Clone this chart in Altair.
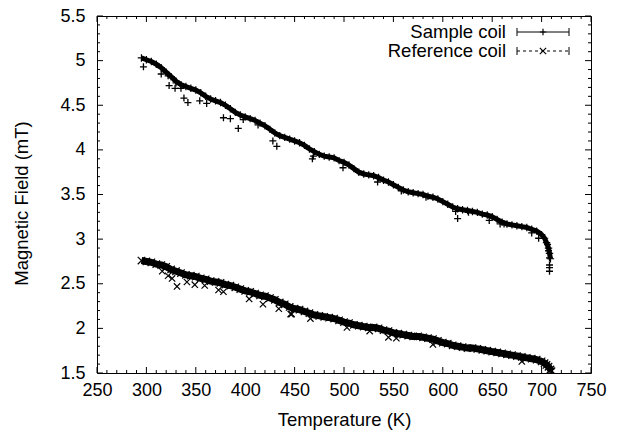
import altair as alt
import pandas as pd

# ---------------- data ----------------
sample_T = list(range(295, 701, 5)) + [703, 705, 707, 708, 709]
sample_B = [5.03, 5.01, 4.99, 4.96, 4.92, 4.87, 4.82, 4.77, 4.73, 4.71,
            4.69, 4.67, 4.64, 4.60, 4.57, 4.55, 4.53, 4.50, 4.46, 4.42,
            4.39, 4.37, 4.35, 4.33, 4.30, 4.27, 4.23, 4.19, 4.16, 4.14,
            4.12, 4.10, 4.08, 4.05, 4.01, 3.98, 3.95, 3.93, 3.92, 3.91,
            3.88, 3.86, 3.83, 3.79, 3.75, 3.73, 3.72, 3.71, 3.69, 3.66,
            3.64, 3.61, 3.58, 3.55, 3.53, 3.52, 3.51, 3.50, 3.48, 3.47,
            3.45, 3.42, 3.39, 3.36, 3.34, 3.33, 3.32, 3.31, 3.30, 3.28,
            3.27, 3.25, 3.22, 3.19, 3.17, 3.16, 3.15, 3.14, 3.13, 3.11,
            3.09, 3.05,
            3.01, 2.96, 2.90, 2.84, 2.78]

sample_out_T = [297, 315, 322, 323, 329, 330, 335, 338, 342, 354,
                361, 378, 385, 393, 398, 413, 428, 432, 468, 469,
                499, 534, 558, 583, 613, 615, 626, 647, 658, 662,
                690, 697, 706, 707, 708, 708, 708, 708]
sample_out_B = [4.93, 4.85, 4.83, 4.72, 4.69, 4.75, 4.69, 4.58, 4.53, 4.55,
                4.52, 4.36, 4.35, 4.24, 4.34, 4.28, 4.10, 4.04, 3.90, 3.93,
                3.80, 3.64, 3.54, 3.47, 3.31, 3.23, 3.30, 3.21, 3.17, 3.17,
                3.07, 3.01, 2.94, 2.87, 2.79, 2.71, 2.68, 2.64]

ref_T = list(range(295, 701, 5)) + [703, 705, 707, 709, 710]
ref_B = [2.76, 2.75, 2.74, 2.72, 2.71, 2.69, 2.66, 2.64, 2.62, 2.60,
         2.59, 2.58, 2.56, 2.55, 2.53, 2.52, 2.51, 2.49, 2.48, 2.46,
         2.44, 2.42, 2.41, 2.39, 2.37, 2.36, 2.34, 2.32, 2.29, 2.27,
         2.24, 2.22, 2.21, 2.19, 2.17, 2.15, 2.14, 2.13, 2.12, 2.11,
         2.09, 2.07, 2.06, 2.04, 2.03, 2.02, 2.01, 2.01, 2.00, 1.98,
         1.97, 1.95, 1.94, 1.93, 1.92, 1.91, 1.91, 1.90, 1.89, 1.88,
         1.86, 1.84, 1.83, 1.81, 1.80, 1.79, 1.78, 1.78, 1.77, 1.76,
         1.75, 1.74, 1.73, 1.72, 1.71, 1.70, 1.69, 1.68, 1.67, 1.66,
         1.65, 1.63,
         1.61, 1.59, 1.57, 1.54, 1.52]

ref_out_T = [316, 322, 326, 331, 341, 349, 359, 373, 378, 404,
             418, 434, 446, 447, 466, 503, 526, 545, 553, 590, 680]
ref_out_B = [2.64, 2.59, 2.56, 2.47, 2.52, 2.49, 2.48, 2.43, 2.41, 2.33,
             2.27, 2.22, 2.16, 2.16, 2.11, 2.01, 1.97, 1.90, 1.89, 1.82, 1.63]

x_major = [250, 300, 350, 400, 450, 500, 550, 600, 650, 700, 750]
x_minor = [v for v in range(250, 751, 10) if v % 50 != 0]
y_major = [1.5, 2.0, 2.5, 3.0, 3.5, 4.0, 4.5, 5.0, 5.5]
y_minor = [round(1.5 + 0.1 * i, 1) for i in range(41) if i % 5 != 0]

legend_labels = ["Sample coil", "Reference coil"]

# ---------------- layout / style ----------------
W, H = 494, 357
FONT = "Liberation Sans"
PLUS = "M-1,0L1,0M0,-1L0,1"
XSHAPE = "M-1,-1L1,1M-1,1L1,-1"

xs = alt.Scale(domain=[250, 750], nice=False, zero=False)
ys = alt.Scale(domain=[1.5, 5.5], nice=False, zero=False)

x_axis = alt.Axis(values=x_major, ticks=False, domain=False, grid=False,
                  labelFlush=False, labelOverlap=False, labelFont=FONT,
                  labelFontSize=18, labelColor="black", labelPadding=8,
                  title="Temperature (K)", titleFont=FONT, titleFontSize=18.5,
                  titleFontWeight="normal", titleColor="black",
                  titleX=W / 2, titleY=46, titleBaseline="middle",
                  titleAlign="center")
y_axis = alt.Axis(values=y_major, ticks=False, domain=False, grid=False,
                  format=".1~f", labelFlush=False, labelOverlap=False,
                  labelFont=FONT, labelFontSize=18, labelColor="black",
                  labelPadding=12,
                  title="Magnetic Field (mT)", titleFont=FONT,
                  titleFontSize=18.5, titleFontWeight="normal",
                  titleColor="black", titleX=-76, titleY=187, titleAngle=270,
                  titleBaseline="middle", titleAlign="center")

X = alt.X("T:Q", scale=xs, axis=x_axis)
Y = alt.Y("B:Q", scale=ys, axis=y_axis)

df_s = pd.DataFrame({"T": sample_T, "B": sample_B})
df_so = pd.DataFrame({"T": sample_out_T, "B": sample_out_B})
df_r = pd.DataFrame({"T": ref_T, "B": ref_B})
df_ro = pd.DataFrame({"T": ref_out_T, "B": ref_out_B})

layers = []

# reference coil band
layers.append(alt.Chart(df_r).mark_line(color="black", strokeWidth=7, clip=True)
              .encode(x=X, y=Y))
layers.append(alt.Chart(df_r).mark_point(shape=XSHAPE, filled=False, color="black",
                                         strokeWidth=1.2, size=55, opacity=1, clip=True)
              .encode(x=X, y=Y))
layers.append(alt.Chart(df_ro).mark_point(shape=XSHAPE, filled=False, color="black",
                                          strokeWidth=1.2, size=40, opacity=1, clip=True)
              .encode(x=X, y=Y))

# sample coil band
layers.append(alt.Chart(df_s).mark_line(color="black", strokeWidth=5, clip=True)
              .encode(x=X, y=Y))
layers.append(alt.Chart(df_s).mark_point(shape=PLUS, filled=False, color="black",
                                         strokeWidth=1.2, size=55, opacity=1, clip=True)
              .encode(x=X, y=Y))
layers.append(alt.Chart(df_so).mark_point(shape=PLUS, filled=False, color="black",
                                          strokeWidth=1.3, size=49, opacity=1, clip=True)
              .encode(x=X, y=Y))

# inward ticks on all four sides
def xticks(vals, length):
    d = pd.DataFrame({"T": vals})
    bot = alt.Chart(d).mark_rule(color="black", strokeWidth=1).encode(
        x=X, y=alt.value(H), y2=alt.value(H - length))
    top = alt.Chart(d).mark_rule(color="black", strokeWidth=1).encode(
        x=X, y=alt.value(0), y2=alt.value(length))
    return [bot, top]

def yticks(vals, length):
    d = pd.DataFrame({"B": vals})
    left = alt.Chart(d).mark_rule(color="black", strokeWidth=1).encode(
        y=Y, x=alt.value(0), x2=alt.value(length))
    right = alt.Chart(d).mark_rule(color="black", strokeWidth=1).encode(
        y=Y, x=alt.value(W), x2=alt.value(W - length))
    return [left, right]

layers += xticks(x_major, 6) + xticks(x_minor, 3)
layers += yticks(y_major, 6) + yticks(y_minor, 3)

# legend (gnuplot style: label on the left, sample on the right)
leg_y = [16, 35]
lx1, lx2, lxm = 420, 472, 446
for i, lab in enumerate(legend_labels):
    d = pd.DataFrame({"label": [lab]})
    yy = leg_y[i]
    layers.append(alt.Chart(d).mark_text(align="right", baseline="middle", font=FONT,
                                         fontSize=18.5, color="black")
                  .encode(text="label:N", x=alt.value(409), y=alt.value(yy)))
    dash = [] if i == 0 else [3, 3]
    layers.append(alt.Chart(d).mark_rule(color="black", strokeWidth=1, strokeDash=dash)
                  .encode(x=alt.value(lx1), x2=alt.value(lx2), y=alt.value(yy)))
    for cx in (lx1, lx2):
        layers.append(alt.Chart(d).mark_rule(color="black", strokeWidth=1)
                      .encode(x=alt.value(cx), y=alt.value(yy - 4), y2=alt.value(yy + 4)))
    layers.append(alt.Chart(d).mark_point(shape=PLUS if i == 0 else XSHAPE, filled=False,
                                          color="black", strokeWidth=1.2, size=40, opacity=1)
                  .encode(x=alt.value(lxm), y=alt.value(yy)))

chart = alt.layer(*layers).properties(
    width=W, height=H,
    autosize="none",
    padding={"left": 97, "top": 16, "right": 28, "bottom": 58},
    background="white",
).configure_view(stroke="black", strokeWidth=1)

chart.save("out.html", embed_options={"renderer": "svg", "actions": False})
